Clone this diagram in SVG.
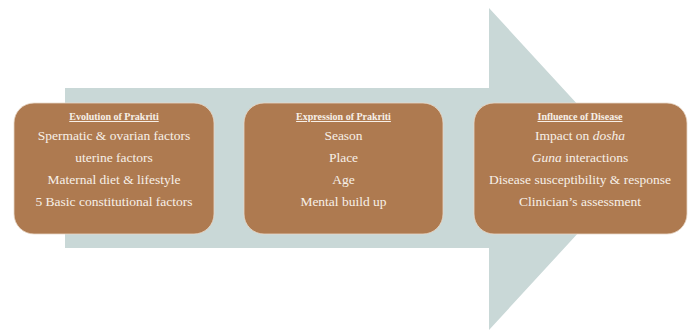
<svg xmlns="http://www.w3.org/2000/svg" width="692" height="331" viewBox="0 0 692 331">
<style>
.box{fill:#AE7A50;stroke:#E8D8C8;stroke-width:0.8}
.t{font-family:"Liberation Serif","Times New Roman",serif;font-size:13.5px;fill:#F7F0E8;text-anchor:middle}
.h{font-family:"Liberation Serif","Times New Roman",serif;font-size:10px;font-weight:bold;fill:#F7F0E8;text-anchor:middle;text-decoration:underline}
</style>
<rect width="692" height="331" fill="#FFFFFF"/>
<g id="connectors">
<path d="M65 88 H489 V8 L637 169 L489 330 V248 H65 Z" fill="#C9D8D7"/>
</g>
<g id="node1">
<rect class="box" x="14" y="103" width="200" height="131" rx="20"/>
<text class="h" x="114" y="120">Evolution  of Prakriti</text>
<text class="t" x="114" y="140">Spermatic &amp; ovarian factors</text>
<text class="t" x="114" y="162">uterine factors</text>
<text class="t" x="114" y="184">Maternal diet &amp; lifestyle</text>
<text class="t" x="114" y="206">5 Basic constitutional factors</text>
</g>
<g id="node2">
<rect class="box" x="244" y="103" width="199" height="131" rx="20"/>
<text class="h" x="343.5" y="120">Expression  of Prakriti</text>
<text class="t" x="343.5" y="140">Season</text>
<text class="t" x="343.5" y="162">Place</text>
<text class="t" x="343.5" y="184">Age</text>
<text class="t" x="343.5" y="206">Mental build up</text>
</g>
<g id="node3">
<rect class="box" x="474" y="103" width="213" height="131" rx="20"/>
<text class="h" x="580" y="120">Influence of Disease</text>
<text class="t" x="580" y="140">Impact on <tspan font-style="italic">dosha</tspan></text>
<text class="t" x="580" y="162"><tspan font-style="italic">Guna</tspan> interactions</text>
<text class="t" x="580" y="184">Disease susceptibility &amp; response</text>
<text class="t" x="580" y="206">Clinician’s assessment</text>
</g>
</svg>
